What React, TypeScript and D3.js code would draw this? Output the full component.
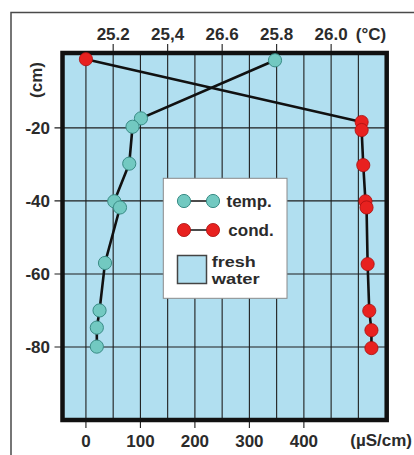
import React from "react";
import * as d3 from "d3";

// Depth profiles (cm) with temperature (°C) and conductivity (µS/cm)
const tempDepth = [-1.5, -17.4, -19.7, -29.8, -40.1, -41.8, -57, -70, -74.7, -79.9];
const tempValues = [25.794, 25.302, 25.271, 25.259, 25.204, 25.225, 25.17, 25.15, 25.14, 25.14];
const condDepth = [-1.2, -18.4, -20.6, -30.2, -40.1, -41.8, -57.3, -70.1, -75.4, -80.3];
const condValues = [0, 506, 506, 509, 513, 515, 517, 520, 524, 524];

const condTicks = [0, 100, 200, 300, 400];
const condGrid = [0, 50, 100, 150, 200, 250, 300, 350, 400, 450, 500];
const tempTicks = [25.2, 25.4, 25.6, 25.8, 26.0];
const tempTickLabels = ["25.2", "25,4", "26.6", "25.8", "26.0"];
const depthTicks = [-20, -40, -60, -80];

const W = 414;
const H = 455;
const left = 62.5;
const right = 386.7;
const top = 53;
const bottom = 420;

const FONT = "'Liberation Sans', Arial, Helvetica, sans-serif";
const TEXT = "#2b2b2b";
const WATER = "#b1dff0";
const CYAN = "#72c9c1";
const CYAN_STROKE = "#3a8c86";
const RED = "#e8211f";
const RED_STROKE = "#a81010";
const FS = 17;

export default function App() {
  const x = d3.scaleLinear().domain([-43, 552]).range([left, right]);
  const xt = d3.scaleLinear().domain([25.014, 26.204]).range([left, right]);
  const y = d3.scaleLinear().domain([0.5, -100]).range([top, bottom]);

  const tempLine = d3
    .line<number>()
    .x((_, i) => xt(tempValues[i]))
    .y((_, i) => y(tempDepth[i]));
  const condLine = d3
    .line<number>()
    .x((_, i) => x(condValues[i]))
    .y((_, i) => y(condDepth[i]));

  const r = 6.6;

  return (
    <svg
      width={W}
      height={H}
      style={{ position: "absolute", left: 0, top: 0, background: "#fff" }}
      fontFamily={FONT}
      fontWeight="bold"
    >
      {/* outer frame */}
      <path d={`M11,${H} V12.5 H${W}`} fill="none" stroke="#4a4a4a" strokeWidth={1.5} />

      {/* water background */}
      <rect x={left} y={top} width={right - left} height={bottom - top} fill={WATER} />

      {/* vertical grid */}
      {condGrid.map((v) => (
        <line key={"g" + v} x1={x(v)} x2={x(v)} y1={top} y2={bottom} stroke="#1e1e1e" strokeWidth={1.1} />
      ))}
      {/* horizontal grid */}
      {depthTicks.map((v) => (
        <line key={"h" + v} x1={left - 8} x2={right} y1={y(v)} y2={y(v)} stroke="#1e1e1e" strokeWidth={1.1} />
      ))}
      {/* bottom ticks */}
      {condTicks.map((v) => (
        <line key={"bt" + v} x1={x(v)} x2={x(v)} y1={bottom} y2={bottom + 8} stroke="#1e1e1e" strokeWidth={1.1} />
      ))}
      {/* top ticks */}
      {tempTicks.map((v) => (
        <line key={"tt" + v} x1={xt(v)} x2={xt(v)} y1={top - 9} y2={top} stroke="#1e1e1e" strokeWidth={1.1} />
      ))}

      {/* plot border */}
      <rect x={left} y={top} width={right - left} height={bottom - top} fill="none" stroke="#111" strokeWidth={4.5} />

      {/* profile lines */}
      <path d={tempLine(tempValues) ?? ""} fill="none" stroke="#111" strokeWidth={2.6} />
      <path d={condLine(condValues) ?? ""} fill="none" stroke="#111" strokeWidth={2.6} />

      {tempValues.map((v, i) => (
        <circle key={"t" + i} cx={xt(v)} cy={y(tempDepth[i])} r={r} fill={CYAN} stroke={CYAN_STROKE} strokeWidth={1} />
      ))}
      {condValues.map((v, i) => (
        <circle key={"c" + i} cx={x(v)} cy={y(condDepth[i])} r={r} fill={RED} stroke={RED_STROKE} strokeWidth={0.8} />
      ))}

      {/* axis labels */}
      {tempTicks.map((v, i) => (
        <text key={"tl" + v} x={xt(v)} y={40} textAnchor="middle" fontSize={FS} fill={TEXT}>
          {tempTickLabels[i]}
        </text>
      ))}
      <text x={371} y={40} textAnchor="middle" fontSize={FS} fill={TEXT}>
        (°C)
      </text>
      {condTicks.map((v) => (
        <text key={"bl" + v} x={x(v)} y={446.5} textAnchor="middle" fontSize={FS} fill={TEXT}>
          {v}
        </text>
      ))}
      <text x={412} y={446} textAnchor="end" fontSize={FS} fill={TEXT}>
        (µS/cm)
      </text>
      {depthTicks.map((v) => (
        <text key={"yl" + v} x={50} y={y(v) + 6} textAnchor="end" fontSize={FS} fill={TEXT}>
          {v}
        </text>
      ))}
      <text
        transform="translate(41.5,80) rotate(-90)"
        textAnchor="middle"
        fontSize={FS}
        fill={TEXT}
      >
        (cm)
      </text>

      {/* legend */}
      <g>
        <rect x={163.3} y={178.3} width={123.7} height={120} fill="#fff" stroke="#8a8a8a" strokeWidth={1} />
        <line x1={184} x2={213} y1={201} y2={201} stroke="#111" strokeWidth={1.5} />
        <circle cx={184} cy={201} r={r} fill={CYAN} stroke={CYAN_STROKE} strokeWidth={1} />
        <circle cx={213} cy={201} r={r} fill={CYAN} stroke={CYAN_STROKE} strokeWidth={1} />
        <text x={226.5} y={206.5} fontSize={FS} fill={TEXT}>temp.</text>
        <line x1={184} x2={213} y1={230} y2={230} stroke="#111" strokeWidth={1.5} />
        <circle cx={184} cy={230} r={r} fill={RED} stroke={RED_STROKE} strokeWidth={0.8} />
        <circle cx={213} cy={230} r={r} fill={RED} stroke={RED_STROKE} strokeWidth={0.8} />
        <text x={228.3} y={235.5} fontSize={FS} fill={TEXT}>cond.</text>
        <rect x={177.5} y={255.5} width={29} height={28} fill={WATER} stroke="#444" strokeWidth={1.5} />
        <text x={211.7} y={267} fontSize={15} fill={TEXT} textLength={44} lengthAdjust="spacingAndGlyphs">
          fresh
        </text>
        <text x={211.7} y={283.8} fontSize={15} fill={TEXT} textLength={48} lengthAdjust="spacingAndGlyphs">
          water
        </text>
      </g>
    </svg>
  );
}
